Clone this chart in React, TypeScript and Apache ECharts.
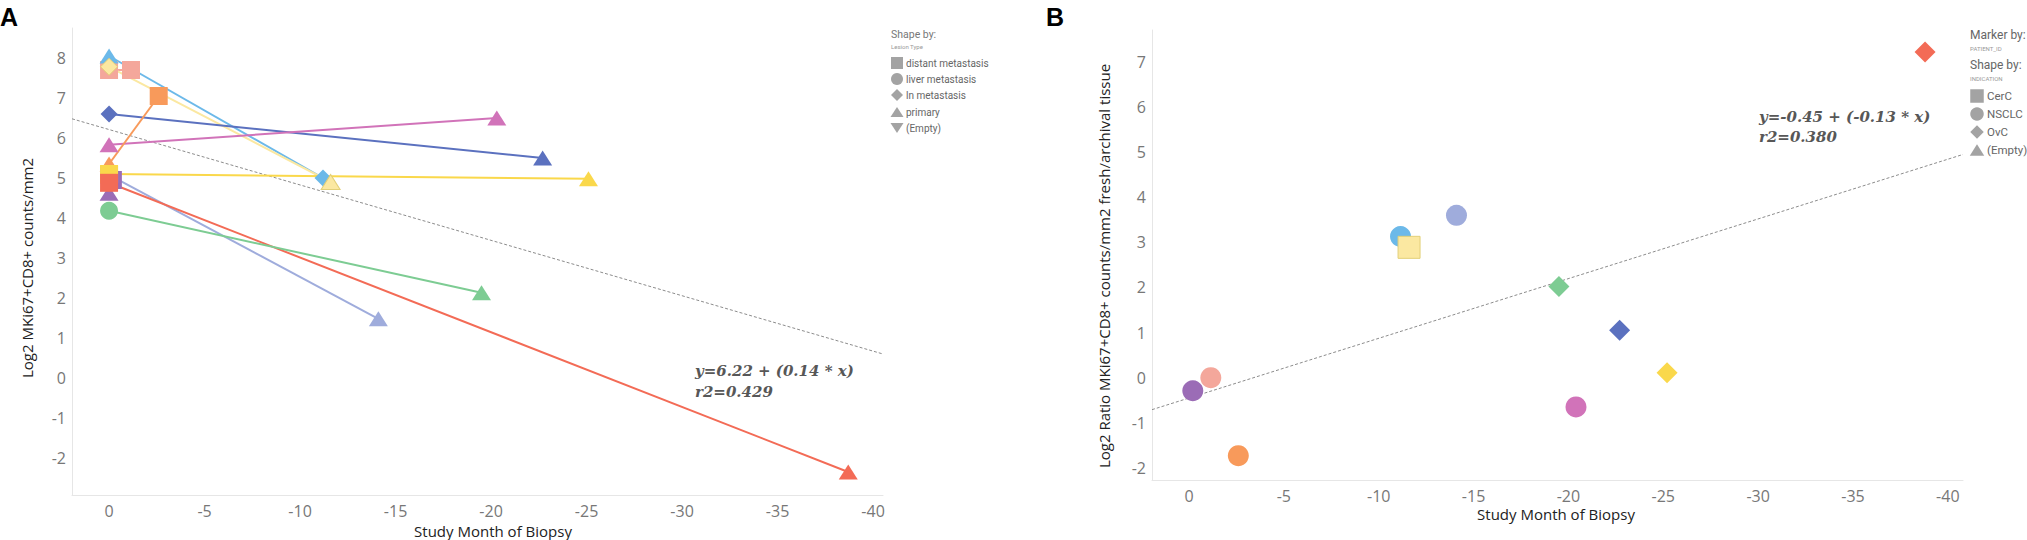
import React, { useEffect, useRef } from 'react';
import * as echarts from 'echarts';

// ---------- data ----------
const lesionTypes = ['distant metastasis', 'liver metastasis', 'ln metastasis', 'primary', '(Empty)'];
const indications = ['CerC', 'NSCLC', 'OvC', '(Empty)'];

const patientIds = ['P01', 'P02', 'P03', 'P04', 'P05', 'P06', 'P07', 'P08', 'P09', 'P10', 'P11'];
const patientColors = ['#f4a79b', '#6cb9e9', '#fbe8a1', '#5b71bf', '#d173b9', '#f89a5b', '#9facdc', '#9b6cb6', '#fad84b', '#f36b56', '#7dcc93'];

// Panel A: fresh (study) biopsy and archival biopsy per patient
const freshMonth = [0, 0, 0, 0, 0, 0, 0, 0, 0, 0, 0];
const freshLog2 = [7.7, 8.05, 7.78, 6.6, 5.83, 5.35, 5.08, 4.62, 5.1, 4.88, 4.18];
const freshLesion = ['distant metastasis', 'primary', 'ln metastasis', 'ln metastasis', 'primary', 'primary', 'distant metastasis', 'primary', 'distant metastasis', 'distant metastasis', 'liver metastasis'];
const archivalMonth = [-1.15, -11.2, -11.6, -22.7, -20.3, -2.6, -14.1, -0.2, -25.1, -38.7, -19.5];
const archivalLog2 = [7.7, 5.0, 4.9, 5.5, 6.5, 7.05, 1.48, 4.95, 4.98, -2.35, 2.13];
const archivalLesion = ['distant metastasis', 'ln metastasis', 'primary', 'primary', 'primary', 'distant metastasis', 'primary', 'distant metastasis', 'primary', 'primary', 'primary'];

// Panel B: log2 ratio fresh/archival
const ratioMonth = [-1.15, -11.15, -11.6, -22.7, -20.4, -2.6, -14.1, -0.2, -25.2, -38.8, -19.5];
const ratioLog2 = [0.0, 3.13, 2.89, 1.05, -0.65, -1.73, 3.6, -0.29, 0.11, 7.22, 2.02];
const ratioIndication = ['NSCLC', 'NSCLC', 'CerC', 'OvC', 'NSCLC', 'NSCLC', 'NSCLC', 'NSCLC', 'OvC', 'OvC', 'OvC'];

// regression lines (end points) and their labels
const trendA = [[1.94, 6.48], [-40.52, 0.6]];
const trendB = [[1.95, -0.71], [-40.8, 4.95]];
const equationA = ['y=6.22 + (0.14 * x)', 'r2=0.429'];
const equationB = ['y=-0.45 + (-0.13 * x)', 'r2=0.380'];

const xTicks = [0, -5, -10, -15, -20, -25, -30, -35, -40];
const yTicksA = [-2, -1, 0, 1, 2, 3, 4, 5, 6, 7, 8];
const yTicksB = [-2, -1, 0, 1, 2, 3, 4, 5, 6, 7];

const xTitle = 'Study Month of Biopsy';
const yTitleA = 'Log2 MKi67+CD8+ counts/mm2';
const yTitleB = 'Log2 Ratio MKi67+CD8+ counts/mm2 fresh/archival tissue';

// ---------- styling helpers ----------
const downTri = 'path://M0,0L20,0L10,16Z';
const lesionSymbol: Record<string, string> = {
  'distant metastasis': 'rect',
  'liver metastasis': 'circle',
  'ln metastasis': 'diamond',
  primary: 'triangle',
  '(Empty)': downTri,
};
const indicationSymbol: Record<string, string> = {
  CerC: 'rect',
  NSCLC: 'circle',
  OvC: 'diamond',
  '(Empty)': 'triangle',
};
const sizeA: Record<string, any> = { rect: 18, circle: 18, diamond: 17, triangle: [19, 15] };
const sizeB: Record<string, any> = { rect: 22, circle: 21, diamond: 21, triangle: [22, 18] };

const TICK_FONT = "'Open Sans', 'DejaVu Sans', sans-serif";
const LEG_FONT = "Roboto, 'Noto Sans', sans-serif";

function itemStyleFor(i: number) {
  const s: any = { color: patientColors[i], opacity: 1 };
  if (i === 2) {
    s.borderColor = '#e2cf78';
    s.borderWidth = 1;
  }
  return s;
}

function legendShape(kind: string, cx: number, cy: number, s: number) {
  const h = s / 2;
  const style = { fill: '#a3a3a3' };
  if (kind === 'rect') return { type: 'rect', shape: { x: cx - h, y: cy - h, width: s, height: s }, style };
  if (kind === 'circle') return { type: 'circle', shape: { cx, cy, r: h }, style };
  if (kind === 'diamond') return { type: 'polygon', shape: { points: [[cx, cy - h], [cx + h, cy], [cx, cy + h], [cx - h, cy]] }, style };
  if (kind === 'triangle') return { type: 'polygon', shape: { points: [[cx, cy - h + 1], [cx + h + 0.5, cy + h - 1], [cx - h - 0.5, cy + h - 1]] }, style };
  return { type: 'polygon', shape: { points: [[cx - h - 0.5, cy - h + 1], [cx + h + 0.5, cy - h + 1], [cx, cy + h - 1]] }, style };
}

function txt(x: number, y: number, text: string, font: any, extra: any = {}) {
  return {
    type: 'text',
    x,
    y,
    silent: true,
    ...extra,
    style: { text, verticalAlign: 'middle', align: 'left', ...font },
  };
}

function buildOption() {
  const series: any[] = [];

  // lines for panel A
  patientIds.forEach((id, i) => {
    series.push({
      name: id + ' line',
      type: 'line',
      xAxisIndex: 0,
      yAxisIndex: 0,
      symbol: 'none',
      z: 2,
      lineStyle: { color: patientColors[i], width: 2 },
      data: [
        [freshMonth[i], freshLog2[i]],
        [archivalMonth[i], archivalLog2[i]],
      ],
    });
  });

  // markers for panel A
  const markerDataA: any[] = [];
  patientIds.forEach((id, i) => {
    const s1 = lesionSymbol[freshLesion[i]];
    const s2 = lesionSymbol[archivalLesion[i]];
    markerDataA.push({ name: id, value: [archivalMonth[i], archivalLog2[i]], symbol: s2, symbolSize: sizeA[s2] || 18, itemStyle: itemStyleFor(i) });
    markerDataA.push({ name: id, value: [freshMonth[i], freshLog2[i]], symbol: s1, symbolSize: sizeA[s1] || 18, itemStyle: itemStyleFor(i) });
  });
  series.push({
    name: 'markersA',
    type: 'scatter',
    xAxisIndex: 0,
    yAxisIndex: 0,
    z: 3,
    data: markerDataA,
  });

  // trend line A
  series.push({
    name: 'trendA',
    type: 'line',
    xAxisIndex: 0,
    yAxisIndex: 0,
    symbol: 'none',
    z: 1,
    lineStyle: { color: '#8c8c8c', width: 1, type: [3, 2] },
    data: trendA,
  });

  // panel B
  series.push({
    name: 'trendB',
    type: 'line',
    xAxisIndex: 1,
    yAxisIndex: 1,
    symbol: 'none',
    z: 1,
    lineStyle: { color: '#8c8c8c', width: 1, type: [3, 2] },
    data: trendB,
  });
  series.push({
    name: 'markersB',
    type: 'scatter',
    xAxisIndex: 1,
    yAxisIndex: 1,
    z: 3,
    data: patientIds.map((id, i) => {
      const s = indicationSymbol[ratioIndication[i]];
      return { name: id, value: [ratioMonth[i], ratioLog2[i]], symbol: s, symbolSize: sizeB[s], itemStyle: itemStyleFor(i) };
    }),
  });

  const axisLine = { show: true, onZero: false, lineStyle: { color: '#e6e6e6', width: 1 } };
  const tickLabel = { color: '#777', fontFamily: TICK_FONT, fontSize: 16 };

  const xAxisBase = (idx: number, min: number, max: number) => ({
    type: 'value',
    gridIndex: idx,
    inverse: true,
    min,
    max,
    axisLine,
    axisTick: { show: false },
    splitLine: { show: false },
    axisLabel: { ...tickLabel, margin: 8, customValues: xTicks, showMinLabel: true, showMaxLabel: true },
  });
  const yAxisBase = (idx: number, min: number, max: number, ticks: number[]) => ({
    type: 'value',
    gridIndex: idx,
    min,
    max,
    axisLine,
    axisTick: { show: false },
    splitLine: { show: false },
    axisLabel: { ...tickLabel, margin: 6, customValues: ticks },
  });

  const eqFont = { fontFamily: "'DejaVu Serif', Georgia, serif", fontStyle: 'italic', fontWeight: 'bold', fontSize: 15, fill: '#575757' };
  const titleFont = { fontFamily: TICK_FONT, fontSize: 15, fill: '#222' };
  const legTitle = { fontFamily: LEG_FONT, fontSize: 10.5, fill: '#777' };
  const legSub = { fontFamily: LEG_FONT, fontSize: 6, fill: '#999' };
  const legItemA = { fontFamily: LEG_FONT, fontSize: 10, fill: '#666' };
  const legTitleB = { fontFamily: LEG_FONT, fontSize: 12, fill: '#666' };
  const legItemB = { fontFamily: LEG_FONT, fontSize: 11.5, fill: '#666' };

  const lesionKinds = ['rect', 'circle', 'diamond', 'triangle', 'down'];
  const indKinds = ['rect', 'circle', 'diamond', 'triangle'];
  const legAy = [63, 79, 95, 112, 128];
  const legBy = [96, 114, 132, 150];

  const graphic: any[] = [
    // panel letters
    txt(0, 17, 'A', { fontFamily: "'Liberation Sans', Arial, sans-serif", fontWeight: 'bold', fontSize: 25, fill: '#000' }),
    txt(1046, 17, 'B', { fontFamily: "'Liberation Sans', Arial, sans-serif", fontWeight: 'bold', fontSize: 25, fill: '#000' }),
    // axis titles
    txt(493, 531, xTitle, { ...titleFont, align: 'center' }),
    txt(1556, 514, xTitle, { ...titleFont, align: 'center' }),
    txt(27, 268, yTitleA, { ...titleFont, align: 'center' }, { rotation: Math.PI / 2 }),
    txt(1104, 266, yTitleB, { ...titleFont, align: 'center' }, { rotation: Math.PI / 2 }),
    // equations
    txt(695, 371, equationA[0], eqFont),
    txt(695, 392, equationA[1], eqFont),
    txt(1759, 117, equationB[0], eqFont),
    txt(1759, 137, equationB[1], eqFont),
    // legend A
    txt(891, 34, 'Shape by:', legTitle),
    txt(891, 46, 'Lesion Type', legSub),
    // legend B
    txt(1970, 35, 'Marker by:', legTitleB),
    txt(1970, 48, 'PATIENT_ID', legSub),
    txt(1970, 65, 'Shape by:', legTitleB),
    txt(1970, 78, 'INDICATION', legSub),
  ];
  lesionTypes.forEach((name, i) => {
    graphic.push(legendShape(lesionKinds[i], 897, legAy[i], 12));
    graphic.push(txt(906, legAy[i], name, legItemA));
  });
  indications.forEach((name, i) => {
    graphic.push(legendShape(indKinds[i], 1977, legBy[i], 13.5));
    graphic.push(txt(1987, legBy[i], name, legItemB));
  });

  return {
    animation: false,
    backgroundColor: '#fff',
    grid: [
      { left: 72, top: 28, width: 811, height: 467 },
      { left: 1152, top: 30, width: 811, height: 450 },
    ],
    xAxis: [xAxisBase(0, -40.52, 1.94), xAxisBase(1, -40.8, 1.95)],
    yAxis: [yAxisBase(0, -2.925, 8.75, yTicksA), yAxisBase(1, -2.27, 7.71, yTicksB)],
    series,
    graphic,
  };
}

export default function App() {
  const ref = useRef<HTMLDivElement>(null);
  useEffect(() => {
    document.body.style.margin = '0';
    if (!ref.current) return;
    const chart = echarts.init(ref.current, undefined, { renderer: 'svg' });
    chart.setOption(buildOption() as any);
    return () => chart.dispose();
  }, []);
  return <div ref={ref} style={{ width: 2027, height: 540, background: '#fff' }} />;
}
